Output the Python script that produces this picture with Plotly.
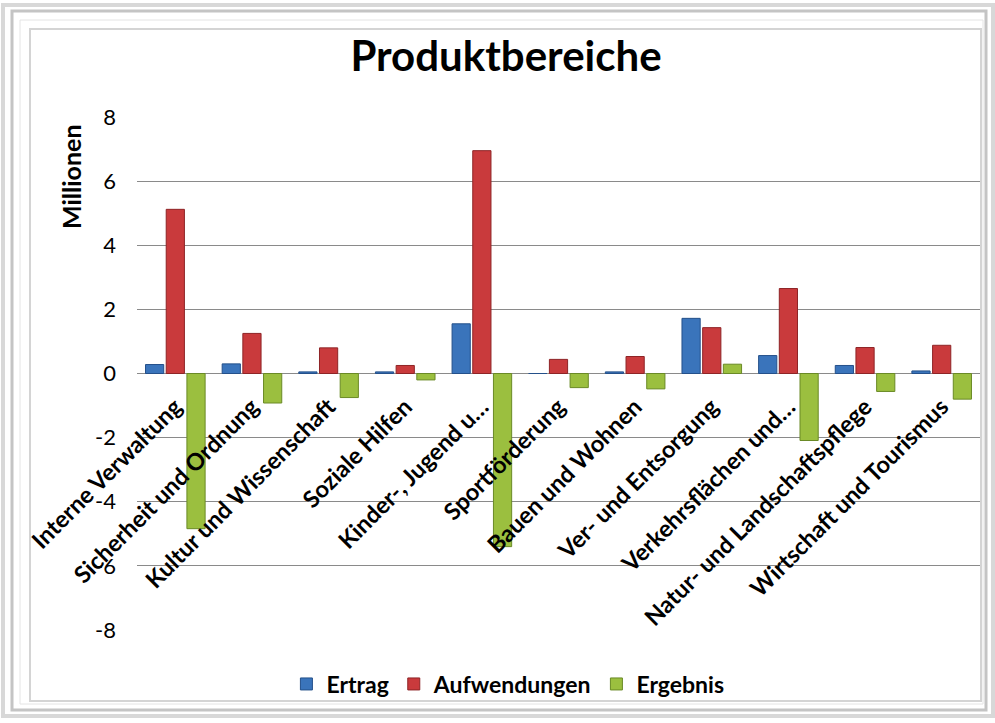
import plotly.graph_objects as go

# Produktbereiche (values in millions)
categories = [
    "Interne Verwaltung",
    "Sicherheit und Ordnung",
    "Kultur und Wissenschaft",
    "Soziale Hilfen",
    "Kinder-, Jugend u…",
    "Sportförderung",
    "Bauen und Wohnen",
    "Ver- und Entsorgung",
    "Verkehrsflächen und…",
    "Natur- und Landschaftspflege",
    "Wirtschaft und Tourismus",
]
ertrag = [0.28, 0.30, 0.05, 0.05, 1.55, 0.0, 0.05, 1.72, 0.56, 0.25, 0.08]
aufwendungen = [5.12, 1.25, 0.80, 0.25, 6.95, 0.44, 0.53, 1.43, 2.65, 0.81, 0.88]
ergebnis = [-4.84, -0.92, -0.75, -0.20, -5.40, -0.44, -0.48, 0.29, -2.09, -0.56, -0.80]

y_ticks = [-8, -6, -4, -2, 0, 2, 4, 6, 8]
y_labels = [str(v) for v in y_ticks]  # plain hyphen, as in the original

W, H = 995, 723
L, R, T, B = 137, 15, 117, 93
FONT = "Lato"


def px(x, y):
    # pixel -> paper coordinates
    return (x - L) / (W - L - R), (H - B - y) / (H - T - B)


fig = go.Figure()

series = [
    ("Ertrag", ertrag, "#3a74bb", "#24508a"),
    ("Aufwendungen", aufwendungen, "#c93a3c", "#8e2426"),
    ("Ergebnis", ergebnis, "#9bbf3f", "#6a8a26"),
]
for name, vals, color, edge in series:
    fig.add_trace(go.Bar(
        x=categories, y=vals, name=name,
        marker=dict(color=color, line=dict(color=edge, width=1)),
    ))


def frame(xa, ya, xb, yb, color, width):
    x0, y0 = px(xa, ya)
    x1, y1 = px(xb, yb)
    return dict(type="rect", xref="paper", yref="paper", x0=x0, y0=y0, x1=x1, y1=y1,
                line=dict(color=color, width=width), fillcolor="rgba(0,0,0,0)", layer="below")


# frame around the chart
shapes = [
    frame(3, 5, 993, 716, "#d8d8d8", 4),
    frame(12, 11, 986, 710, "#c4c4c4", 3),
    frame(20, 20, 983, 704, "#e4e4e4", 1),
    frame(30, 29, 981, 701, "#d4d4d4", 2),
]

mx, my = px(71, 177)
fig.add_annotation(
    x=mx, y=my, xref="paper", yref="paper", text="<b>Millionen</b>",
    xanchor="center", yanchor="middle",
    textangle=-90, showarrow=False, font=dict(family=FONT, size=25, color="black"),
)

lx, ly = px(0, 684)
fig.update_layout(
    width=W, height=H,
    margin=dict(l=L, r=R, t=T, b=B),
    paper_bgcolor="white", plot_bgcolor="white",
    title=dict(text="<b>Produktbereiche</b>", x=506 / W, xanchor="center",
               y=1 - 56 / H, yanchor="middle",
               font=dict(family=FONT, size=42, color="black")),
    barmode="group", bargap=0.19, bargroupgap=0.12,
    shapes=shapes,
    showlegend=True,
    legend=dict(orientation="h", x=0.44, xanchor="center", y=ly, yanchor="middle",
                font=dict(family=FONT, size=23, color="black", weight="bold"),
                bgcolor="rgba(0,0,0,0)", traceorder="normal", itemwidth=30),
    font=dict(family=FONT, color="black"),
)
fig.update_yaxes(
    range=[-8, 8], tickvals=y_ticks, ticktext=y_labels,
    showgrid=True, gridcolor="#8a8a8a", gridwidth=1,
    zeroline=True, zerolinecolor="#8a8a8a", zerolinewidth=1,
    tickfont=dict(family=FONT, size=22, color="black"), ticks="", showline=False,
    ticklabelstandoff=20, automargin=False,
)
fig.update_xaxes(
    anchor="free", position=0.5, tickangle=-45, showgrid=False, showline=False,
    ticks="", tickfont=dict(family=FONT, size=23.5, color="black", weight="bold"),
    ticklabelstandoff=14,
    automargin=False, categoryorder="array", categoryarray=categories,
)

fig.write_html("out.html", config={"displayModeBar": False},
               post_script="document.body.style.margin='0';")
